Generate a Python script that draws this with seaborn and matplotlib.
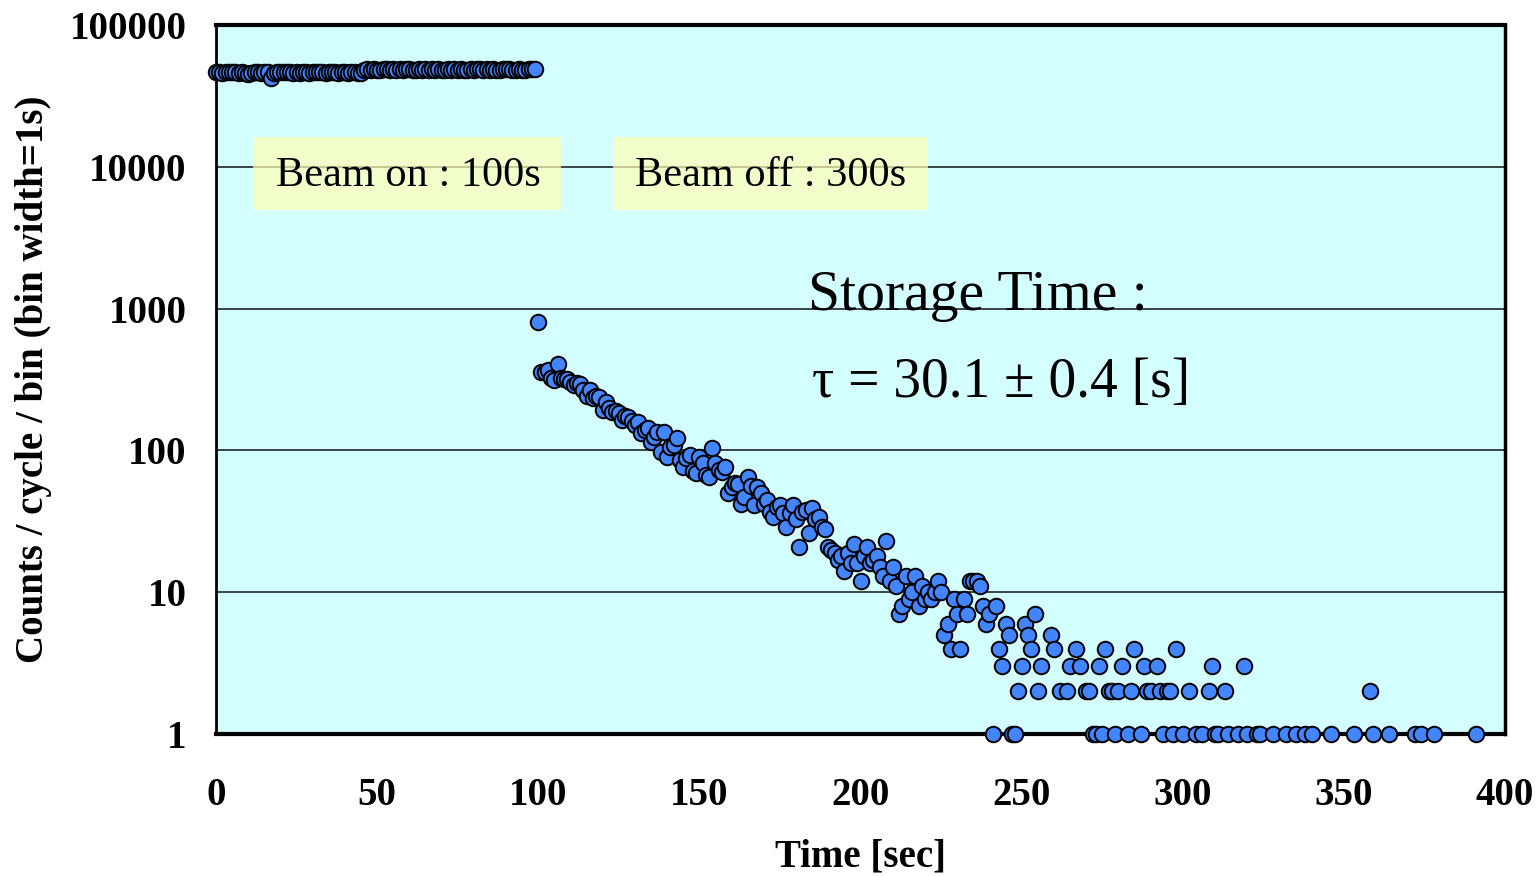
import matplotlib
matplotlib.use("Agg")
import matplotlib.pyplot as plt
import numpy as np
import pandas as pd
import seaborn as sns
from matplotlib.patches import Rectangle
from matplotlib.ticker import FixedLocator, FixedFormatter, NullLocator

# ---- data -------------------------------------------------------------
# counts per 1 s bin while the beam is on (t = 0 .. 99 s)
beam_on_time = list(range(0, 100))
beam_on_counts = [
    46500, 46800, 46200, 46600, 46900, 46300, 46700, 46100, 46400, 45900,
    45200, 46000, 46500, 46300, 45800, 46700, 46900, 42300, 46200, 46600,
    46400, 46800, 46300, 46500, 46000, 46700, 46200, 46600, 46400, 46100,
    46700, 46300, 46800, 46500, 46200, 46600, 46900, 46300, 46000, 46500,
    46700, 46200, 46400, 46600, 46100, 45600, 48200, 48700, 48400, 48900,
    48500, 48100, 48600, 48800, 48300, 48700, 48400, 48900, 48200, 48600,
    48800, 48300, 48500, 48900, 48100, 48600, 48400, 48800, 48200, 48700,
    48500, 48000, 48600, 48300, 48900, 48400, 48700, 48100, 48500, 48800,
    48300, 48600, 49000, 48400, 48700, 48200, 48900, 48500, 48300, 48800,
    49200, 48600, 48400, 48000, 48700, 48500, 48300, 48800, 48600, 48900,
]

# counts per bin after the beam is switched off (t = 100 .. 240 s)
decay_time = list(range(100, 241))
decay_counts = [
    800, 360, 355, 370, 325, 315, 410, 325, 320, 320,
    305, 290, 300, 295, 268, 242, 265, 235, 240, 238,
    193, 218, 200, 186, 190, 183, 163, 175, 172, 160,
    150, 158, 133, 140, 144, 115, 125, 134, 98, 134,
    90, 105, 109, 122, 85, 76, 88, 93, 72, 69,
    90, 81, 67, 65, 104, 82, 73, 70, 76, 50,
    55, 59, 58, 42, 47, 65, 56, 41, 55, 50,
    42, 45, 37, 34, 40, 41, 36, 29, 36, 41,
    33, 21, 37, 38, 26, 39, 33, 34, 29, 28,
    21, 20, 19, 17, 18, 14, 19, 16, 22, 16,
    12, 18, 21, 16, 17, 18, 15, 13, 23, 12,
    15, 11, 7, 8, 13, 9, 10, 13, 8, 11,
    9, 10, 9, 10, 12, 10, 5, 6, 4, 9,
    7, 4, 9, 7, 12, 12, 12, 11, 8, 6,
    7,
]

# late tail: only bins with non-zero counts
tail_time = [
    241, 242, 243, 244, 245, 246, 247, 248, 249, 250,
    251, 252, 253, 254, 255, 256, 259, 260, 262, 264,
    265, 267, 268, 270, 271, 272, 273, 274, 275, 276,
    277, 278, 279, 280, 281, 283, 284, 285, 287, 288,
    289, 290, 292, 293, 294, 295, 296, 297, 298, 300,
    302, 304, 306, 308, 309, 310, 311, 313, 314, 317,
    319, 320, 323, 324, 328, 332, 335, 338, 340, 346,
    353, 358, 359, 364, 372, 374, 378, 391,
]
tail_counts = [
    1, 8, 4, 3, 6, 5, 1, 1, 2, 3,
    6, 5, 4, 7, 2, 3, 5, 4, 2, 2,
    3, 4, 3, 2, 2, 1, 1, 3, 1, 4,
    2, 2, 1, 2, 3, 1, 2, 4, 1, 3,
    2, 2, 3, 2, 1, 2, 2, 1, 4, 1,
    2, 1, 1, 2, 3, 1, 1, 2, 1, 1,
    3, 1, 1, 1, 1, 1, 1, 1, 1, 1,
    1, 2, 1, 1, 1, 1, 1, 1,
]

x_ticks = [0, 50, 100, 150, 200, 250, 300, 350, 400]
y_ticks = [1, 10, 100, 1000, 10000, 100000]
y_tick_labels = ["1", "10", "100", "1000", "10000", "100000"]

# ---- figure -----------------------------------------------------------
sns.set_theme(style="white")
plt.rcParams["font.family"] = ["Liberation Serif", "DejaVu Serif"]
plt.rcParams["text.color"] = "black"
plt.rcParams["axes.labelcolor"] = "black"
plt.rcParams["xtick.color"] = "black"
plt.rcParams["ytick.color"] = "black"

df = pd.DataFrame({
    "time": beam_on_time + decay_time + tail_time,
    "counts": beam_on_counts + decay_counts + tail_counts,
})

fig, ax = plt.subplots(figsize=(15.39, 8.76), dpi=100)
fig.patch.set_facecolor("white")
fig.subplots_adjust(left=216 / 1539, right=1505 / 1539,
                    bottom=1 - 734 / 876, top=1 - 25 / 876)
ax.set_facecolor("#D4FFFF")

sns.scatterplot(data=df, x="time", y="counts", ax=ax, s=125,
                color="#4384FF", edgecolor="black", linewidth=1.4,
                clip_on=False, zorder=4, legend=False)

ax.set_yscale("log")
ax.set_xlim(0, 400)
ax.set_ylim(1, 100000)
ax.xaxis.set_major_locator(FixedLocator(x_ticks))
ax.yaxis.set_major_locator(FixedLocator(y_ticks))
ax.yaxis.set_major_formatter(FixedFormatter(y_tick_labels))
ax.yaxis.set_minor_locator(NullLocator())

ax.set_axisbelow(True)
ax.yaxis.grid(True, color="#111111", linewidth=1.1)
ax.xaxis.grid(False)

for side, lw in {"top": 3, "bottom": 3, "left": 2, "right": 2.5}.items():
    ax.spines[side].set_visible(True)
    ax.spines[side].set_color("black")
    ax.spines[side].set_linewidth(lw)

ax.tick_params(axis="x", direction="in", length=10, width=1, color="black",
               pad=31, labelsize=28, labelcolor="black")
ax.tick_params(axis="y", length=0, pad=21, labelsize=28, labelcolor="black")
for lab in ax.get_xticklabels() + ax.get_yticklabels():
    lab.set_fontweight("bold")

ax.set_xlabel("Time [sec]", fontsize=28, fontweight="bold", color="black")
ax.set_ylabel("Counts / cycle / bin (bin width=1s)", fontsize=28,
              fontweight="bold", color="black")
ax.xaxis.set_label_coords(0.5, -0.147)
ax.yaxis.set_label_coords(-0.127, 0.5)

# beam on / beam off notes
for x0, x1, cx, label in [(0.0287, 0.2677, 0.149, "Beam on : 100s"),
                          (0.308, 0.5524, 0.4306, "Beam off : 300s")]:
    ax.add_patch(Rectangle((x0, 0.739), x1 - x0, 0.103,
                           transform=ax.transAxes, facecolor="#FFFFB4",
                           edgecolor="none", alpha=0.7, zorder=2))
    ax.text(cx, 0.787, label, transform=ax.transAxes, fontsize=30.5,
            ha="center", va="center", color="black", zorder=3)

ax.text(0.459, 0.598, "Storage Time :", transform=ax.transAxes,
        fontsize=41.5, ha="left", va="baseline", color="black", zorder=3)
ax.text(0.4621, 0.475, "τ = 30.1 ± 0.4 [s]", transform=ax.transAxes,
        fontsize=40, ha="left", va="baseline", color="black", zorder=3)

fig.savefig("out.png", dpi=100, facecolor="white")
